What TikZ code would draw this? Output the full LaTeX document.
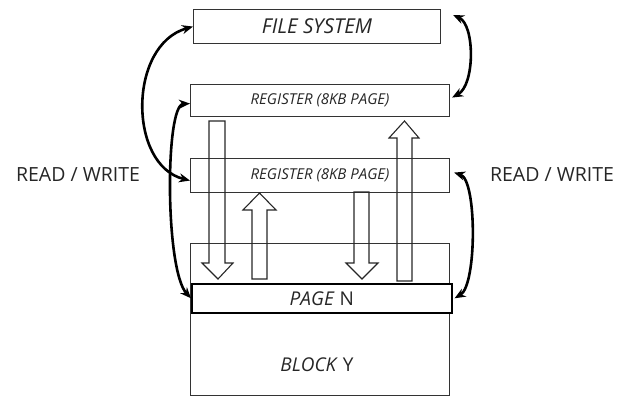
\documentclass[tikz,border=0pt]{standalone}
\usepackage{fontspec}
\setmainfont{Open Sans}
\usetikzlibrary{arrows.meta}
\begin{document}
\begin{tikzpicture}[x=1pt,y=-1pt,
  box/.style={draw=black!80, line width=1.1pt, inner sep=0pt, anchor=north west, text=black!85},
  barrow/.style={draw=black!85, line width=1.1pt, line join=miter},
  rw/.style={line width=2.6pt, {Stealth[length=11pt,width=9pt]}-{Stealth[length=11pt,width=9pt]}},
  lbl/.style={font=\fontsize{19.5}{21}\selectfont, text=black!85}]
\useasboundingbox (0,0) rectangle (632,396);
% boxes
\node[box, minimum width=259pt, minimum height=152pt] (block) at (190,243) {};
\node[font=\fontsize{19}{21}\selectfont, text=black!85] (blocklbl) at (317,365) {\textit{BLOCK} Y};
\node[box, draw=black, line width=1.6pt, fill=white, minimum width=260pt, minimum height=29pt,
      font=\fontsize{19}{21}\selectfont] (page) at (191,283) {\textit{PAGE} N};
\node[box, minimum width=247pt, minimum height=34pt, font=\fontsize{20.5}{22}\selectfont\itshape] (fs) at (193,9) {FILE SYSTEM};
\node[box, minimum width=259pt, minimum height=32pt, font=\fontsize{15}{17}\selectfont\itshape] (reg1) at (190,84) {REGISTER (8KB PAGE)};
\node[box, minimum width=259pt, minimum height=34pt, font=\fontsize{15}{17}\selectfont\itshape] (reg2) at (190,158) {REGISTER (8KB PAGE)};
% block arrows
\draw[barrow] (209,121) -- (225,121) -- (225,263) -- (233,263) -- (218,279) -- (202,263) -- (209,263) -- cycle;
\draw[barrow] (252,279) -- (267,279) -- (267,210) -- (276,210) -- (259.5,193) -- (243,210) -- (252,210) -- cycle;
\draw[barrow] (354,192) -- (369,192) -- (369,263) -- (378,263) -- (362,279) -- (346,263) -- (354,263) -- cycle;
\draw[barrow] (397,281) -- (412,281) -- (412,138) -- (419,138) -- (404.5,121) -- (389,138) -- (397,138) -- cycle;
% read/write arcs
\draw[rw] (fs.west) .. controls (128,45) and (128,165) .. ([yshift=-5pt]reg2.west);
\draw[rw] ([yshift=-3pt]reg1.west) .. controls (165,105) and (165,270) .. (page.west);
\draw[rw] ([xshift=12pt,yshift=-6pt]fs.north east) .. controls (475,25) and (475,85) .. ([xshift=2pt,yshift=3pt]reg1.east);
\draw[rw] ([xshift=4pt,yshift=3pt]reg2.east) .. controls (477,180) and (477,285) .. ([xshift=2pt]page.east);
% labels
\node[lbl] (rwl) at (78,175) {READ / WRITE};
\node[lbl] (rwr) at (552,175) {READ / WRITE};
\end{tikzpicture}
\end{document}
